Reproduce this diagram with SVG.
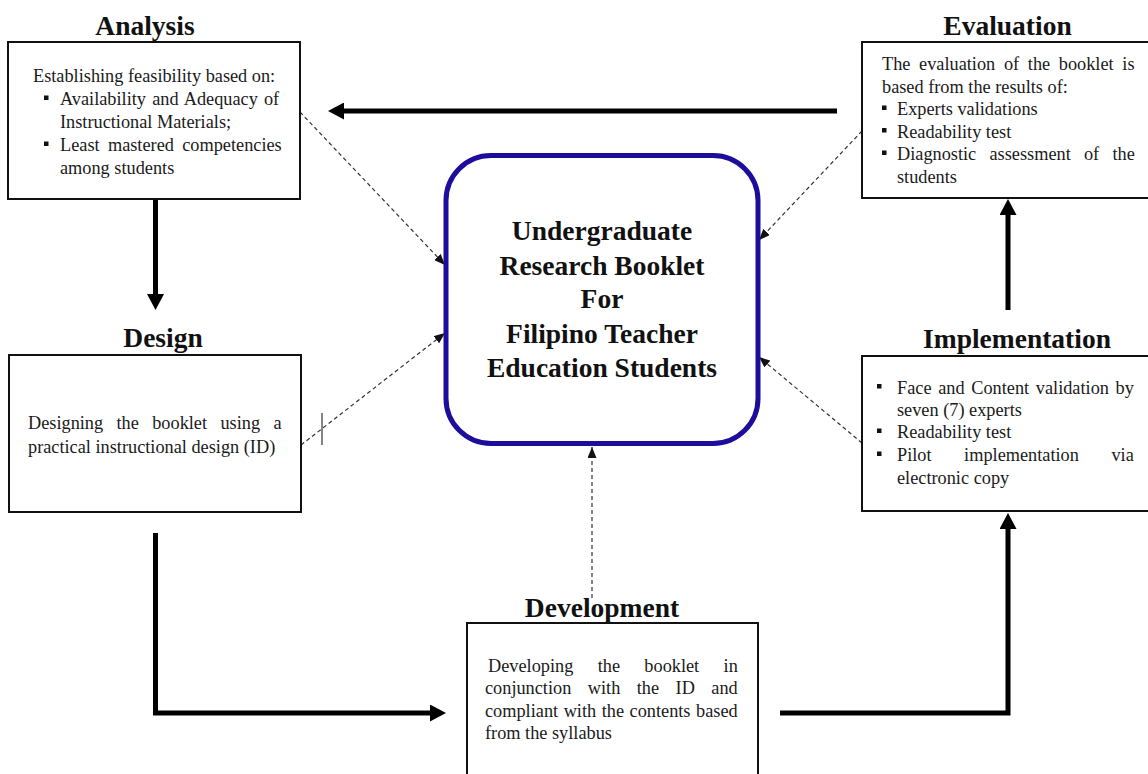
<svg xmlns="http://www.w3.org/2000/svg" width="1148" height="774" viewBox="0 0 1148 774">
  <style>
    .box { fill: #ffffff; stroke: #111111; stroke-width: 2; }
    .core { fill: #ffffff; stroke: #1c0d9c; stroke-width: 5; }
    .title { font-family: "Liberation Serif", "Times New Roman", serif; font-weight: bold; font-size: 27.5px; fill: #111111; text-anchor: middle; }
    .core-text { font-family: "Liberation Serif", "Times New Roman", serif; font-weight: bold; font-size: 27.5px; fill: #111111; text-anchor: middle; }
    .body { font-family: "Liberation Serif", "Times New Roman", serif; font-size: 18.3px; fill: #1a1a1a; }
    .bullet { fill: #111111; }
    .flow { fill: none; stroke: #000000; stroke-width: 5; }
    .link { fill: none; stroke: #333333; stroke-width: 1.2; stroke-dasharray: 4 3; }
  </style>
  <defs>
    <marker id="head-thick" viewBox="0 0 16 17" refX="0" refY="8.5" markerWidth="16" markerHeight="17" markerUnits="userSpaceOnUse" orient="auto">
      <path d="M0,0 L16,8.5 L0,17 z" fill="#000000"/>
    </marker>
    <marker id="head-thin" viewBox="0 0 11 9" refX="11" refY="4.5" markerWidth="11" markerHeight="9" markerUnits="userSpaceOnUse" orient="auto">
      <path d="M0,0 L11,4.5 L0,9 z" fill="#111111"/>
    </marker>
  </defs>

  <!-- connectors -->
  <g id="connectors">
    <!-- main cycle -->
    <path class="flow" d="M837,111 H344" marker-end="url(#head-thick)"/>
    <path class="flow" d="M155.5,199 V294" marker-end="url(#head-thick)"/>
    <path class="flow" d="M155.5,533 V713 H430" marker-end="url(#head-thick)"/>
    <path class="flow" d="M780,713 H1008 V529" marker-end="url(#head-thick)"/>
    <path class="flow" d="M1008,310 V215" marker-end="url(#head-thick)"/>
    <!-- links into the booklet -->
    <path class="link" d="M300,112 L445,265" marker-end="url(#head-thin)"/>
    <path class="link" d="M301,445 L445,333" marker-end="url(#head-thin)"/>
    <path class="link" d="M592,598 L592,447" marker-end="url(#head-thin)"/>
    <path class="link" d="M862,443 L759,357" marker-end="url(#head-thin)"/>
    <path class="link" d="M862,131 L759,240" marker-end="url(#head-thin)"/>
    <line x1="322" y1="413" x2="322" y2="445" stroke="#333333" stroke-width="1.2"/>
  </g>

  <!-- central product -->
  <g id="booklet">
    <rect class="core" x="446" y="155.5" width="312" height="288" rx="45" ry="45"/>
    <text class="core-text" x="602" y="240">Undergraduate</text>
    <text class="core-text" x="602" y="275">Research Booklet</text>
    <text class="core-text" x="602" y="308">For</text>
    <text class="core-text" x="602" y="343">Filipino Teacher</text>
    <text class="core-text" x="602" y="377">Education Students</text>
  </g>

  <!-- Analysis -->
  <g id="analysis">
    <text class="title" x="145" y="35">Analysis</text>
    <rect class="box" x="8" y="42" width="292" height="157"/>
    <text class="body" x="33" y="82">Establishing feasibility based on:</text>
    <rect class="bullet" x="44" y="95.5" width="4.5" height="4.5"/>
    <text class="body" x="60" y="105" word-spacing="1.6">Availability and Adequacy of</text>
    <text class="body" x="60" y="128">Instructional Materials;</text>
    <rect class="bullet" x="44" y="141.5" width="4.5" height="4.5"/>
    <text class="body" x="60" y="151" word-spacing="3.75">Least mastered competencies</text>
    <text class="body" x="60" y="174">among students</text>
  </g>

  <!-- Design -->
  <g id="design">
    <text class="title" x="163" y="347">Design</text>
    <rect class="box" x="9" y="355" width="292" height="157"/>
    <text class="body" x="28" y="429" word-spacing="8.8">Designing the booklet using a</text>
    <text class="body" x="28" y="452.5">practical instructional design (ID)</text>
  </g>

  <!-- Development -->
  <g id="development">
    <text class="title" x="602" y="617">Development</text>
    <rect class="box" x="467" y="623" width="291" height="170"/>
    <text class="body" x="488" y="671.5" word-spacing="19.8">Developing the booklet in</text>
    <text class="body" x="485" y="693.5" word-spacing="11.9">conjunction with the ID and</text>
    <text class="body" x="485" y="716.5" word-spacing="0.97">compliant with the contents based</text>
    <text class="body" x="485" y="738.5">from the syllabus</text>
  </g>

  <!-- Implementation -->
  <g id="implementation">
    <text class="title" x="1017" y="348">Implementation</text>
    <rect class="box" x="862" y="356" width="300" height="155"/>
    <rect class="bullet" x="877" y="384" width="4.5" height="4.5"/>
    <text class="body" x="897" y="393.5" word-spacing="2.1">Face and Content validation by</text>
    <text class="body" x="897" y="415.5">seven (7) experts</text>
    <rect class="bullet" x="877" y="428.5" width="4.5" height="4.5"/>
    <text class="body" x="897" y="438">Readability test</text>
    <rect class="bullet" x="877" y="451.5" width="4.5" height="4.5"/>
    <text class="body" x="897" y="461" word-spacing="28">Pilot implementation via</text>
    <text class="body" x="897" y="483.5">electronic copy</text>
  </g>

  <!-- Evaluation -->
  <g id="evaluation">
    <text class="title" x="1007.5" y="35">Evaluation</text>
    <rect class="box" x="862" y="42" width="300" height="156"/>
    <text class="body" x="882" y="69.5" word-spacing="4.1">The evaluation of the booklet is</text>
    <text class="body" x="882" y="92.5">based from the results of:</text>
    <rect class="bullet" x="882" y="105.5" width="4.5" height="4.5"/>
    <text class="body" x="897" y="115">Experts validations</text>
    <rect class="bullet" x="882" y="128" width="4.5" height="4.5"/>
    <text class="body" x="897" y="137.5">Readability test</text>
    <rect class="bullet" x="882" y="150.5" width="4.5" height="4.5"/>
    <text class="body" x="897" y="160" word-spacing="8.7">Diagnostic assessment of the</text>
    <text class="body" x="897" y="182.5">students</text>
  </g>
</svg>
